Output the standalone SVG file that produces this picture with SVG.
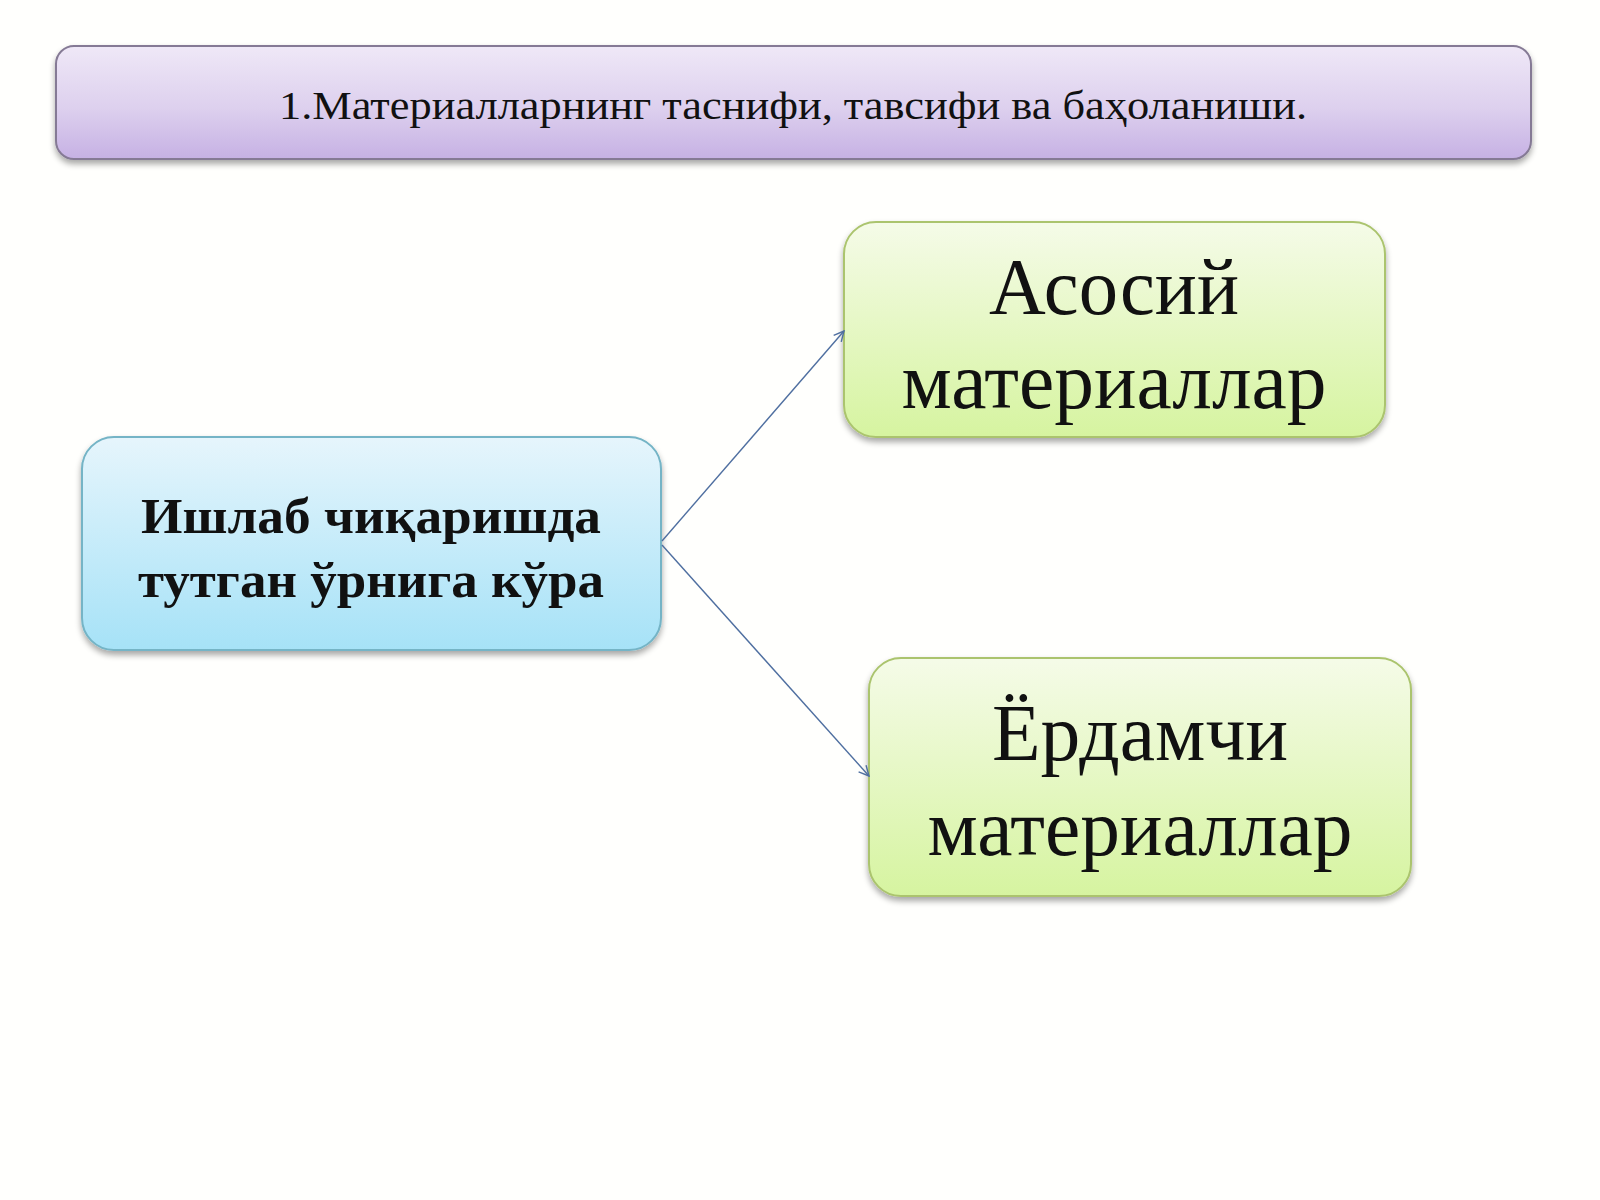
<svg xmlns="http://www.w3.org/2000/svg" width="1600" height="1200" viewBox="0 0 1600 1200">
<defs>
<linearGradient id="gTitle" x1="0" y1="0" x2="0" y2="1">
<stop offset="0" stop-color="#efe8f7"/><stop offset="0.55" stop-color="#ddd0ee"/><stop offset="1" stop-color="#c6b1e4"/>
</linearGradient>
<linearGradient id="gBlue" x1="0" y1="0" x2="0" y2="1">
<stop offset="0" stop-color="#e6f5fc"/><stop offset="1" stop-color="#a6e2f7"/>
</linearGradient>
<linearGradient id="gGreen" x1="0" y1="0" x2="0" y2="1">
<stop offset="0" stop-color="#f5fbe8"/><stop offset="1" stop-color="#d6f4a0"/>
</linearGradient>
<filter id="sh" x="-10%" y="-10%" width="120%" height="130%">
<feGaussianBlur in="SourceAlpha" stdDeviation="3"/>
<feOffset dx="0" dy="4" result="b"/>
<feComponentTransfer><feFuncA type="linear" slope="0.35"/></feComponentTransfer>
<feMerge><feMergeNode/><feMergeNode in="SourceGraphic"/></feMerge>
</filter>
<marker id="arr" viewBox="0 0 12 12" refX="11" refY="6" markerWidth="12" markerHeight="12" markerUnits="userSpaceOnUse" orient="auto">
<path d="M1,1 L11,6 L1,11" fill="none" stroke="#4f6fa0" stroke-width="1.4"/>
</marker>
</defs>
<style>
.serif{font-family:"Liberation Serif","Times New Roman","DejaVu Serif",serif;fill:#111;text-anchor:middle}
.conn{stroke:#4f6fa0;stroke-width:1.4;fill:none;marker-end:url(#arr)}
</style>
<rect width="1600" height="1200" fill="#fffffd"/>
<g id="title">
<rect x="56" y="46" width="1475" height="113" rx="18" fill="url(#gTitle)" stroke="#857a95" stroke-width="2" filter="url(#sh)"/>
<text class="serif" x="793" y="119" font-size="40" textLength="1028" lengthAdjust="spacingAndGlyphs">1.Материалларнинг таснифи, тавсифи ва баҳоланиши.</text>
</g>
<g id="node-source">
<rect x="82" y="437" width="579" height="213" rx="32" fill="url(#gBlue)" stroke="#74b4c6" stroke-width="2" filter="url(#sh)"/>
<text class="serif" x="371" y="533" font-size="50" font-weight="bold" textLength="460" lengthAdjust="spacingAndGlyphs">Ишлаб чиқаришда</text>
<text class="serif" x="371" y="597" font-size="50" font-weight="bold" textLength="466" lengthAdjust="spacingAndGlyphs">тутган ўрнига кўра</text>
</g>
<g id="node-main">
<rect x="844" y="222" width="541" height="215" rx="32" fill="url(#gGreen)" stroke="#abc46e" stroke-width="2" filter="url(#sh)"/>
<text class="serif" x="1114" y="314" font-size="80" textLength="250" lengthAdjust="spacingAndGlyphs">Асосий</text>
<text class="serif" x="1114" y="408" font-size="80" textLength="425" lengthAdjust="spacingAndGlyphs">материаллар</text>
</g>
<g id="node-aux">
<rect x="869" y="658" width="542" height="238" rx="32" fill="url(#gGreen)" stroke="#abc46e" stroke-width="2" filter="url(#sh)"/>
<text class="serif" x="1140" y="760" font-size="80" textLength="296" lengthAdjust="spacingAndGlyphs">Ёрдамчи</text>
<text class="serif" x="1140" y="855" font-size="80" textLength="425" lengthAdjust="spacingAndGlyphs">материаллар</text>
</g>
<g id="connectors">
<line class="conn" x1="662" y1="541" x2="844" y2="331"/>
<line class="conn" x1="662" y1="545" x2="869" y2="776"/>
</g>
</svg>
